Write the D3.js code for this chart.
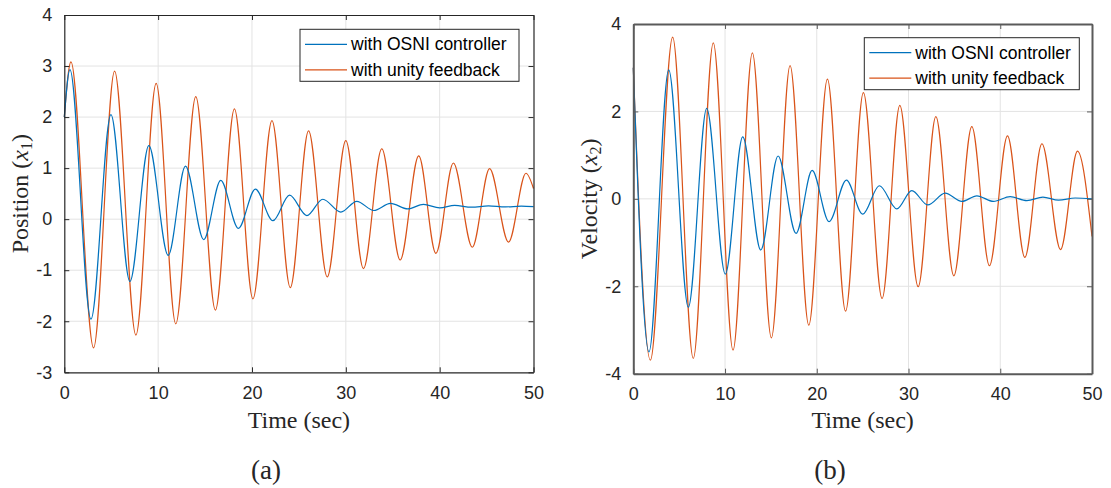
<!DOCTYPE html>
<html>
<head>
<meta charset="utf-8">
<script src="https://cdn.jsdelivr.net/npm/d3@7"></script>
<style>
    body { margin: 0; background: #fff; }
    .tick-label { font-family: "Liberation Sans", Arial, sans-serif; font-size: 18px; fill: #262626; }
    .axis-label { font-family: "Liberation Serif", "DejaVu Serif", serif; font-size: 24px; fill: #262626; }
    .legend-text { font-family: "Liberation Sans", Arial, sans-serif; font-size: 17.5px; fill: #000; }
</style>
</head>
<body>
<div id="figure"></div>
<script>
// Values: [time, value] at start, peaks, troughs and end
const time_ticks = [0, 10, 20, 30, 40, 50];
const position_ticks = [-3, -2, -1, 0, 1, 2, 3, 4];
const velocity_ticks = [-4, -2, 0, 2, 4];
const legend_labels = ['with OSNI controller', 'with unity feedback'];

const position_osni = [
    [0, 2.0], [0.6, 2.93], [2.84, -1.96], [4.97, 2.05], [6.99, -1.22], [9.01, 1.44],
    [11.07, -0.71], [12.91, 1.04], [14.86, -0.40], [16.67, 0.76], [18.55, -0.18],
    [20.36, 0.59], [22.23, -0.03], [24.01, 0.47], [25.85, 0.07], [27.55, 0.39],
    [29.47, 0.14], [31.17, 0.35], [32.98, 0.17], [34.76, 0.31], [36.6, 0.20],
    [38.27, 0.29], [40.0, 0.22], [41.6, 0.27], [43.4, 0.235], [45.2, 0.26],
    [47.0, 0.24], [48.7, 0.255], [50, 0.245]
];
const position_unity = [
    [0, 2.0], [0.71, 3.08], [3.12, -2.52], [5.36, 2.90], [7.63, -2.27], [9.79, 2.66],
    [11.88, -2.05], [14.01, 2.40], [16.1, -1.78], [18.13, 2.16], [20.1, -1.56],
    [22.13, 1.93], [24.08, -1.34], [26.03, 1.73], [28.02, -1.13], [30.0, 1.54],
    [31.88, -0.97], [33.83, 1.38], [35.79, -0.80], [37.77, 1.24], [39.6, -0.67],
    [41.46, 1.10], [43.48, -0.55], [45.32, 0.99], [47.34, -0.45], [49.2, 0.90], [50, 0.60]
];
const velocity_osni = [
    [0, 3.0], [1.71, -3.50], [3.86, 2.95], [6.0, -2.48], [8.0, 2.07], [10.03, -1.72],
    [11.93, 1.42], [13.89, -1.17], [15.78, 0.98], [17.74, -0.79], [19.49, 0.65],
    [21.34, -0.52], [23.23, 0.43], [25.0, -0.35], [26.83, 0.30], [28.72, -0.23],
    [30.36, 0.19], [32.1, -0.14], [33.99, 0.13], [35.81, -0.06], [37.45, 0.07],
    [39.26, -0.06], [41.08, 0.05], [42.9, -0.04], [44.65, 0.04], [46.35, -0.03],
    [48.17, 0.02], [50, 0.0]
];
const velocity_unity = [
    [0, 3.0], [1.86, -3.69], [4.29, 3.70], [6.54, -3.65], [8.72, 3.57], [10.87, -3.46],
    [12.98, 3.34], [15.05, -3.18], [17.09, 3.05], [19.13, -2.89], [21.16, 2.74],
    [23.14, -2.57], [25.08, 2.43], [27.12, -2.28], [29.05, 2.14], [31.05, -2.01],
    [32.98, 1.88], [34.94, -1.76], [36.9, 1.65], [38.82, -1.53], [40.79, 1.44],
    [42.68, -1.34], [44.54, 1.26], [46.57, -1.16], [48.42, 1.09], [50, -0.86]
];

const colors = { osni: '#0072BD', unity: '#D95319' };

const svg = d3.select('#figure').append('svg')
    .attr('width', 1111)
    .attr('height', 488);

// Draw one MATLAB-like panel
function draw_panel(opts) {
    const x_scale = d3.scaleLinear().domain([0, 50]).range([opts.left, opts.right]);
    const y_scale = d3.scaleLinear().domain(opts.y_domain).range([opts.bottom, opts.top]);
    const g = svg.append('g');

    // grid
    g.selectAll('.vgrid').data(time_ticks.slice(1, -1)).join('line')
        .attr('x1', d => x_scale(d)).attr('x2', d => x_scale(d))
        .attr('y1', opts.top).attr('y2', opts.bottom)
        .attr('stroke', '#e3e3e3').attr('stroke-width', 1);
    g.selectAll('.hgrid').data(opts.y_ticks.slice(1, -1)).join('line')
        .attr('x1', opts.left).attr('x2', opts.right)
        .attr('y1', d => y_scale(d)).attr('y2', d => y_scale(d))
        .attr('stroke', '#e3e3e3').attr('stroke-width', 1);

    // curves
    const line = d3.line()
        .x(d => x_scale(d[0]))
        .y(d => y_scale(d[1]))
        .curve(d3.curveMonotoneX);
    g.append('path').datum(opts.unity)
        .attr('d', line).attr('fill', 'none')
        .attr('stroke', colors.unity).attr('stroke-width', 1.2);
    g.append('path').datum(opts.osni)
        .attr('d', line).attr('fill', 'none')
        .attr('stroke', colors.osni).attr('stroke-width', 1.2);

    // axes (box with inward ticks)
    const axis_color = opts.axis_color;
    const fmt = d => String(d);
    g.append('g').attr('transform', 'translate(0,' + opts.bottom + ')')
        .call(d3.axisBottom(x_scale).tickValues(time_ticks).tickFormat(fmt).tickSizeInner(-5).tickSizeOuter(0).tickPadding(14));
    g.append('g').attr('transform', 'translate(0,' + opts.top + ')')
        .call(d3.axisTop(x_scale).tickValues(time_ticks).tickSizeInner(-5).tickSizeOuter(0).tickFormat(''));
    g.append('g').attr('transform', 'translate(' + opts.left + ',0)')
        .call(d3.axisLeft(y_scale).tickValues(opts.y_ticks).tickFormat(fmt).tickSizeInner(-5).tickSizeOuter(0).tickPadding(12));
    g.append('g').attr('transform', 'translate(' + opts.right + ',0)')
        .call(d3.axisRight(y_scale).tickValues(opts.y_ticks).tickSizeInner(-5).tickSizeOuter(0).tickFormat(''));
    g.selectAll('.domain').attr('stroke', axis_color).attr('stroke-width', opts.axis_width);
    g.selectAll('.tick line').attr('stroke', axis_color).attr('stroke-width', 1);
    g.selectAll('.tick text').attr('class', 'tick-label').attr('fill', null);

    // axis labels
    g.append('text').attr('class', 'axis-label')
        .attr('x', (opts.left + opts.right) / 2).attr('y', 428)
        .attr('text-anchor', 'middle')
        .text('Time (sec)');
    const ylab = g.append('text').attr('class', 'axis-label')
        .attr('text-anchor', 'middle')
        .attr('transform', 'translate(' + opts.ylabel_x + ',' + ((opts.top + opts.bottom) / 2) + ') rotate(-90)');
    ylab.append('tspan').text(opts.ylabel + ' (');
    ylab.append('tspan').attr('font-style', 'italic').text('x');
    ylab.append('tspan').attr('font-size', '16px').attr('dy', 4).text(opts.sub);
    ylab.append('tspan').attr('dy', -4).text(')');

    g.append('text').attr('class', 'axis-label')
        .attr('x', opts.caption_x).attr('y', 479)
        .attr('text-anchor', 'middle').style('font-size', '27px')
        .text(opts.caption);

    // legend
    const lg = g.append('g').attr('transform', 'translate(' + opts.legend.x + ',' + opts.legend.y + ')');
    lg.append('rect').attr('width', opts.legend.w).attr('height', 52)
        .attr('fill', '#fff').attr('stroke', '#262626').attr('stroke-width', 1);
    const rows = [colors.osni, colors.unity];
    rows.forEach((c, i) => {
        const ry = 15 + i * 25.5;
        lg.append('line').attr('x1', 5).attr('x2', 47).attr('y1', ry).attr('y2', ry)
            .attr('stroke', c).attr('stroke-width', 1.2);
        lg.append('text').attr('class', 'legend-text')
            .attr('x', 51).attr('y', ry + 6)
            .text(legend_labels[i]);
    });
}

draw_panel({
    left: 64.3, right: 533.5, top: 15, bottom: 372.3,
    y_domain: [-3, 4], y_ticks: position_ticks,
    osni: position_osni, unity: position_unity,
    axis_color: '#262626', axis_width: 1.2,
    ylabel: 'Position', sub: '1', ylabel_x: 28,
    caption: '(a)', caption_x: 266,
    legend: { x: 300, y: 29.3, w: 219 }
});

draw_panel({
    left: 633.3, right: 1092, top: 24, bottom: 373.7,
    y_domain: [-4, 4], y_ticks: velocity_ticks,
    osni: velocity_osni, unity: velocity_unity,
    axis_color: '#5a5a5a', axis_width: 2,
    ylabel: 'Velocity', sub: '2', ylabel_x: 597,
    caption: '(b)', caption_x: 830,
    legend: { x: 864.3, y: 37.7, w: 215 }
});
</script>
</body>
</html>
